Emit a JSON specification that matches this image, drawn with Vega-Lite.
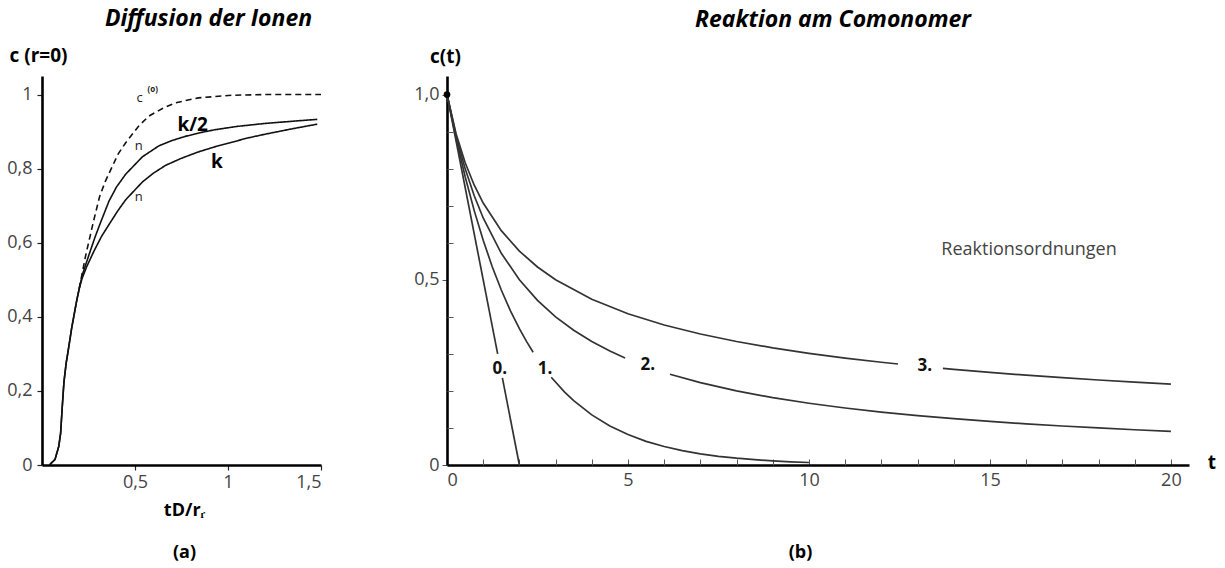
{
  "$schema": "https://vega.github.io/schema/vega-lite/v6.json",
  "background": "white",
  "padding": {"left": 6, "top": 8, "right": 5, "bottom": 5},
  "spacing": 88,
  "config": {
    "font": "Open Sans",
    "view": {"stroke": null},
    "axis": {
      "grid": false,
      "domainColor": "black",
      "domainWidth": 2.6,
      "tickColor": "#222",
      "tickWidth": 1.2,
      "labelFont": "Open Sans",
      "labelFontSize": 18,
      "labelColor": "#444",
      "labelOverlap": false,
      "titleFont": "Open Sans",
      "titleFontSize": 19,
      "titleFontWeight": "bold",
      "titleColor": "black"
    },
    "title": {"font": "Open Sans", "fontSize": 23, "fontWeight": "bold", "fontStyle": "italic", "color": "black"}
  },
  "datasets": {
    "left": [
      {"s": "c0", "t": 0.2, "c": 0.476}, {"s": "c0", "t": 0.235, "c": 0.566}, {"s": "c0", "t": 0.276, "c": 0.656},
      {"s": "c0", "t": 0.31, "c": 0.725}, {"s": "c0", "t": 0.34, "c": 0.765}, {"s": "c0", "t": 0.377, "c": 0.805},
      {"s": "c0", "t": 0.41, "c": 0.84}, {"s": "c0", "t": 0.45, "c": 0.87}, {"s": "c0", "t": 0.52, "c": 0.915},
      {"s": "c0", "t": 0.575, "c": 0.942}, {"s": "c0", "t": 0.65, "c": 0.963}, {"s": "c0", "t": 0.72, "c": 0.978},
      {"s": "c0", "t": 0.84, "c": 0.991}, {"s": "c0", "t": 1.02, "c": 0.998}, {"s": "c0", "t": 1.2, "c": 1.0},
      {"s": "c0", "t": 1.5, "c": 1.0},
      {"s": "k2", "t": 0.04, "c": 0}, {"s": "k2", "t": 0.07, "c": 0.015}, {"s": "k2", "t": 0.09, "c": 0.05},
      {"s": "k2", "t": 0.1, "c": 0.085}, {"s": "k2", "t": 0.108, "c": 0.15}, {"s": "k2", "t": 0.118, "c": 0.224},
      {"s": "k2", "t": 0.13, "c": 0.275}, {"s": "k2", "t": 0.145, "c": 0.322}, {"s": "k2", "t": 0.158, "c": 0.365},
      {"s": "k2", "t": 0.172, "c": 0.404}, {"s": "k2", "t": 0.186, "c": 0.442}, {"s": "k2", "t": 0.2, "c": 0.476},
      {"s": "k2", "t": 0.218, "c": 0.515}, {"s": "k2", "t": 0.253, "c": 0.568}, {"s": "k2", "t": 0.285, "c": 0.615},
      {"s": "k2", "t": 0.316, "c": 0.656}, {"s": "k2", "t": 0.36, "c": 0.712}, {"s": "k2", "t": 0.4, "c": 0.75},
      {"s": "k2", "t": 0.45, "c": 0.785}, {"s": "k2", "t": 0.54, "c": 0.832}, {"s": "k2", "t": 0.63, "c": 0.862},
      {"s": "k2", "t": 0.7, "c": 0.876}, {"s": "k2", "t": 0.77, "c": 0.887}, {"s": "k2", "t": 0.85, "c": 0.897},
      {"s": "k2", "t": 0.93, "c": 0.905}, {"s": "k2", "t": 1.05, "c": 0.914}, {"s": "k2", "t": 1.2, "c": 0.922},
      {"s": "k2", "t": 1.35, "c": 0.928}, {"s": "k2", "t": 1.48, "c": 0.933},
      {"s": "k", "t": 0.04, "c": 0}, {"s": "k", "t": 0.07, "c": 0.015}, {"s": "k", "t": 0.09, "c": 0.05},
      {"s": "k", "t": 0.1, "c": 0.085}, {"s": "k", "t": 0.108, "c": 0.15}, {"s": "k", "t": 0.118, "c": 0.224},
      {"s": "k", "t": 0.13, "c": 0.275}, {"s": "k", "t": 0.145, "c": 0.322}, {"s": "k", "t": 0.158, "c": 0.365},
      {"s": "k", "t": 0.172, "c": 0.404}, {"s": "k", "t": 0.186, "c": 0.442}, {"s": "k", "t": 0.2, "c": 0.476},
      {"s": "k", "t": 0.215, "c": 0.503}, {"s": "k", "t": 0.24, "c": 0.535}, {"s": "k", "t": 0.28, "c": 0.578},
      {"s": "k", "t": 0.32, "c": 0.617}, {"s": "k", "t": 0.369, "c": 0.656}, {"s": "k", "t": 0.41, "c": 0.688},
      {"s": "k", "t": 0.45, "c": 0.716}, {"s": "k", "t": 0.54, "c": 0.764}, {"s": "k", "t": 0.6, "c": 0.788},
      {"s": "k", "t": 0.665, "c": 0.809}, {"s": "k", "t": 0.75, "c": 0.828}, {"s": "k", "t": 0.84, "c": 0.845},
      {"s": "k", "t": 0.93, "c": 0.859}, {"s": "k", "t": 1.02, "c": 0.871}, {"s": "k", "t": 1.1, "c": 0.882},
      {"s": "k", "t": 1.2, "c": 0.893}, {"s": "k", "t": 1.35, "c": 0.908}, {"s": "k", "t": 1.48, "c": 0.92}
    ],
    "right": [
      {"seg": "0a", "t": 0, "c": 1}, {"seg": "0a", "t": 1.4, "c": 0.3},
      {"seg": "0b", "t": 1.53, "c": 0.235}, {"seg": "0b", "t": 2, "c": 0},
      {"seg": "1a", "t": 0, "c": 1}, {"seg": "1a", "t": 0.25, "c": 0.8825}, {"seg": "1a", "t": 0.5, "c": 0.7788},
      {"seg": "1a", "t": 0.75, "c": 0.6873}, {"seg": "1a", "t": 1, "c": 0.6065}, {"seg": "1a", "t": 1.25, "c": 0.5353},
      {"seg": "1a", "t": 1.5, "c": 0.4724}, {"seg": "1a", "t": 1.75, "c": 0.4169}, {"seg": "1a", "t": 2, "c": 0.3679},
      {"seg": "1a", "t": 2.2, "c": 0.3329}, {"seg": "1a", "t": 2.38, "c": 0.3042},
      {"seg": "1b", "t": 2.88, "c": 0.2369}, {"seg": "1b", "t": 3.25, "c": 0.1969}, {"seg": "1b", "t": 3.5, "c": 0.1738},
      {"seg": "1b", "t": 4, "c": 0.1353}, {"seg": "1b", "t": 4.5, "c": 0.1054}, {"seg": "1b", "t": 5, "c": 0.0821},
      {"seg": "1b", "t": 5.5, "c": 0.0639}, {"seg": "1b", "t": 6, "c": 0.0498}, {"seg": "1b", "t": 6.5, "c": 0.0388},
      {"seg": "1b", "t": 7, "c": 0.0302}, {"seg": "1b", "t": 7.5, "c": 0.0235}, {"seg": "1b", "t": 8, "c": 0.0183},
      {"seg": "1b", "t": 8.5, "c": 0.0143}, {"seg": "1b", "t": 9, "c": 0.0111}, {"seg": "1b", "t": 9.5, "c": 0.0087},
      {"seg": "1b", "t": 10, "c": 0.0067},
      {"seg": "2a", "t": 0, "c": 1}, {"seg": "2a", "t": 0.25, "c": 0.8889}, {"seg": "2a", "t": 0.5, "c": 0.8},
      {"seg": "2a", "t": 0.75, "c": 0.7273}, {"seg": "2a", "t": 1, "c": 0.6667}, {"seg": "2a", "t": 1.5, "c": 0.5714},
      {"seg": "2a", "t": 2, "c": 0.5}, {"seg": "2a", "t": 2.5, "c": 0.4444}, {"seg": "2a", "t": 3, "c": 0.4},
      {"seg": "2a", "t": 3.5, "c": 0.3636}, {"seg": "2a", "t": 4, "c": 0.3333}, {"seg": "2a", "t": 4.5, "c": 0.3077},
      {"seg": "2a", "t": 4.92, "c": 0.289},
      {"seg": "2b", "t": 6.16, "c": 0.2451}, {"seg": "2b", "t": 7, "c": 0.2222}, {"seg": "2b", "t": 8, "c": 0.2},
      {"seg": "2b", "t": 9, "c": 0.1818}, {"seg": "2b", "t": 10, "c": 0.1667}, {"seg": "2b", "t": 11, "c": 0.1538},
      {"seg": "2b", "t": 12, "c": 0.1429}, {"seg": "2b", "t": 13, "c": 0.1333}, {"seg": "2b", "t": 14, "c": 0.125},
      {"seg": "2b", "t": 15, "c": 0.1176}, {"seg": "2b", "t": 16, "c": 0.1111}, {"seg": "2b", "t": 17, "c": 0.1053},
      {"seg": "2b", "t": 18, "c": 0.1}, {"seg": "2b", "t": 19, "c": 0.0952}, {"seg": "2b", "t": 20, "c": 0.0909},
      {"seg": "3a", "t": 0, "c": 1}, {"seg": "3a", "t": 0.25, "c": 0.8944}, {"seg": "3a", "t": 0.5, "c": 0.8165},
      {"seg": "3a", "t": 0.75, "c": 0.7559}, {"seg": "3a", "t": 1, "c": 0.7071}, {"seg": "3a", "t": 1.5, "c": 0.6325},
      {"seg": "3a", "t": 2, "c": 0.5774}, {"seg": "3a", "t": 2.5, "c": 0.5345}, {"seg": "3a", "t": 3, "c": 0.5},
      {"seg": "3a", "t": 4, "c": 0.4472}, {"seg": "3a", "t": 5, "c": 0.4082}, {"seg": "3a", "t": 6, "c": 0.378},
      {"seg": "3a", "t": 7, "c": 0.3536}, {"seg": "3a", "t": 8, "c": 0.3333}, {"seg": "3a", "t": 9, "c": 0.3162},
      {"seg": "3a", "t": 10, "c": 0.3015}, {"seg": "3a", "t": 11, "c": 0.2887}, {"seg": "3a", "t": 12, "c": 0.2774},
      {"seg": "3a", "t": 12.46, "c": 0.2726},
      {"seg": "3b", "t": 13.7, "c": 0.2608}, {"seg": "3b", "t": 14, "c": 0.2582}, {"seg": "3b", "t": 15, "c": 0.25},
      {"seg": "3b", "t": 16, "c": 0.2425}, {"seg": "3b", "t": 17, "c": 0.2357}, {"seg": "3b", "t": 18, "c": 0.2294},
      {"seg": "3b", "t": 19, "c": 0.2236}, {"seg": "3b", "t": 20, "c": 0.2182}
    ]
  },
  "hconcat": [
    {
      "title": {"text": "Diffusion der Ionen", "dx": 27, "offset": 15},
      "width": 279,
      "height": 389,
      "layer": [
        {
          "data": {"name": "left"},
          "mark": {"type": "line", "color": "#111", "strokeWidth": 1.6},
          "encoding": {
            "x": {
              "field": "t", "type": "quantitative",
              "scale": {"domain": [0, 1.5], "nice": false, "zero": false},
              "axis": {
                "values": [0.5, 1, 1.5],
                "labelExpr": "replace(format(datum.value, '~g'), '.', ',')",
                "labelOverlap": false,
                "tickSize": 5,
                "labelPadding": 3,
                "title": ["tD/rᵣ", "(a)"],
                "titleFontSize": 18,
                "titleLineHeight": 42,
                "titleBaseline": "top",
                "titleAlign": "center",
                "titleX": 142,
                "titleY": 36
              }
            },
            "y": {
              "field": "c", "type": "quantitative",
              "scale": {"domain": [0, 1.05], "nice": false},
              "axis": {
                "values": [0, 0.2, 0.4, 0.6, 0.8, 1],
                "labelExpr": "replace(format(datum.value, '~g'), '.', ',')",
                "labelOverlap": false,
                "tickSize": 5,
                "labelPadding": 5,
                "title": "c (r=0)",
                "titleAngle": 0,
                "titleAlign": "center",
                "titleBaseline": "middle",
                "titleX": -4,
                "titleY": -21
              }
            },
            "detail": {"field": "s"},
            "strokeDash": {
              "field": "s", "type": "nominal",
              "scale": {"domain": ["c0", "k2", "k"], "range": [[6, 4], [1, 0], [1, 0]]},
              "legend": null
            }
          }
        },
        {
          "data": {"values": [{"label": "k/2", "t": 0.81, "c": 0.919}, {"label": "k", "t": 0.94, "c": 0.819}]},
          "mark": {"type": "text", "fontSize": 19, "fontWeight": "bold", "color": "black"},
          "encoding": {
            "x": {"field": "t", "type": "quantitative"},
            "y": {"field": "c", "type": "quantitative"},
            "text": {"field": "label"}
          }
        },
        {
          "data": {"values": [{"label": "c", "t": 0.525, "c": 0.99}, {"label": "n", "t": 0.52, "c": 0.862}, {"label": "n", "t": 0.52, "c": 0.724}]},
          "mark": {"type": "text", "fontSize": 13, "color": "#222"},
          "encoding": {
            "x": {"field": "t", "type": "quantitative"},
            "y": {"field": "c", "type": "quantitative"},
            "text": {"field": "label"}
          }
        },
        {
          "data": {"values": [{"label": "(o)", "t": 0.595, "c": 1.012}]},
          "mark": {"type": "text", "fontSize": 8, "fontWeight": "bold", "color": "#222"},
          "encoding": {
            "x": {"field": "t", "type": "quantitative"},
            "y": {"field": "c", "type": "quantitative"},
            "text": {"field": "label"}
          }
        }
      ]
    },
    {
      "title": {"text": "Reaktion am Comonomer", "dx": 15, "offset": 15},
      "width": 742,
      "height": 389,
      "resolve": {"axis": {"x": "independent", "y": "independent"}},
      "layer": [
        {
          "data": {"name": "right"},
          "mark": {"type": "line", "color": "#333", "strokeWidth": 1.7},
          "encoding": {
            "x": {
              "field": "t", "type": "quantitative",
              "scale": {"domain": [0, 20.5], "nice": false},
              "axis": {
                "orient": "bottom",
                "values": [0, 5, 10, 15, 20],
                "format": "d",
                "labelOverlap": false,
                "tickSize": -6,
                "tickColor": "#555",
                "tickWidth": 1,
                "labelPadding": 12,
                "title": "(b)",
                "titleFontSize": 18,
                "titleBaseline": "top",
                "titleAlign": "center",
                "titleX": 353,
                "titleY": 78
              }
            },
            "y": {
              "field": "c", "type": "quantitative",
              "scale": {"domain": [0, 1.05], "nice": false},
              "axis": {
                "orient": "left",
                "values": [0, 0.5, 1],
                "labelExpr": "datum.value == 0 ? '0' : (datum.value == 0.5 ? '0,5' : '1,0')",
                "labelOverlap": false,
                "tickSize": 5,
                "tickColor": "#555",
                "tickWidth": 1,
                "labelPadding": 3,
                "title": "c(t)",
                "titleAngle": 0,
                "titleAlign": "center",
                "titleBaseline": "middle",
                "titleX": -2,
                "titleY": -20
              }
            },
            "detail": {"field": "seg"}
          }
        },
        {
          "data": {"values": [{"t": 0, "c": 1}]},
          "mark": {"type": "point", "filled": true, "color": "black", "size": 45, "opacity": 1},
          "encoding": {
            "x": {
              "field": "t", "type": "quantitative",
              "axis": {
                "orient": "bottom",
                "values": [1, 2, 3, 4, 6, 7, 8, 9, 11, 12, 13, 14, 16, 17, 18, 19],
                "labels": false,
                "domain": false,
                "tickSize": -6,
                "tickColor": "#555",
                "tickWidth": 1,
                "title": null
              }
            },
            "y": {
              "field": "c", "type": "quantitative",
              "axis": {
                "orient": "left",
                "values": [0.1, 0.2, 0.3, 0.4, 0.6, 0.7, 0.8, 0.9],
                "labels": false,
                "domain": false,
                "tickSize": -6,
                "tickColor": "#555",
                "tickWidth": 1,
                "title": null
              }
            }
          }
        },
        {
          "data": {"values": [
            {"label": "0.", "t": 1.46, "c": 0.26},
            {"label": "1.", "t": 2.71, "c": 0.26},
            {"label": "2.", "t": 5.55, "c": 0.27},
            {"label": "3.", "t": 13.2, "c": 0.267}
          ]},
          "mark": {"type": "text", "fontSize": 17, "fontWeight": "bold", "color": "#111"},
          "encoding": {
            "x": {"field": "t", "type": "quantitative", "axis": null},
            "y": {"field": "c", "type": "quantitative", "axis": null},
            "text": {"field": "label"}
          }
        },
        {
          "data": {"values": [{"label": "Reaktionsordnungen", "t": 16.08, "c": 0.58}]},
          "mark": {"type": "text", "fontSize": 18, "color": "#444"},
          "encoding": {
            "x": {"field": "t", "type": "quantitative", "axis": null},
            "y": {"field": "c", "type": "quantitative", "axis": null},
            "text": {"field": "label"}
          }
        },
        {
          "data": {"values": [{"label": "t", "t": 21.13, "c": 0.005}]},
          "mark": {"type": "text", "fontSize": 19, "fontWeight": "bold", "color": "black"},
          "encoding": {
            "x": {"field": "t", "type": "quantitative", "axis": null},
            "y": {"field": "c", "type": "quantitative", "axis": null},
            "text": {"field": "label"}
          }
        }
      ]
    }
  ]
}
